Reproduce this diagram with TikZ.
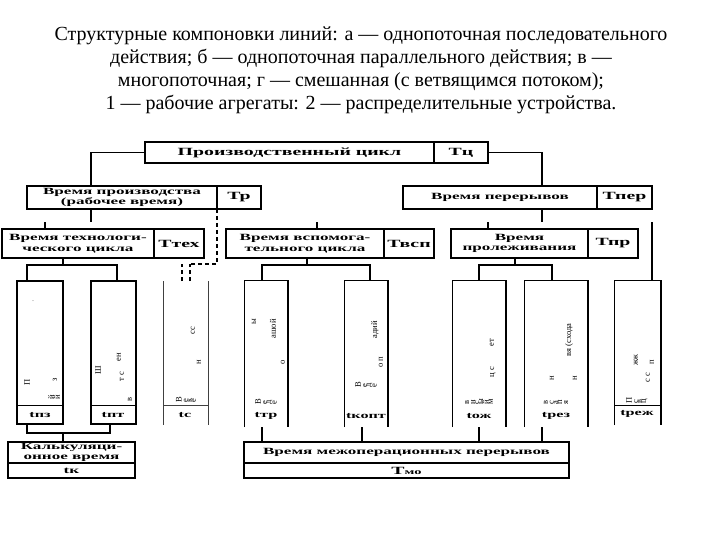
\documentclass[tikz,border=0pt]{standalone}
\usepackage{graphicx}
\usepackage{fontspec}
\setmainfont{Liberation Serif}
\newfontfamily\tfont{Liberation Serif}
\newfontfamily\bw[FakeStretch=1.8]{Liberation Serif}
\usetikzlibrary{calc}
\tikzset{
 ln/.style={line width=1.4pt},
 thn/.style={line width=0.8pt},
 bx/.style={draw, line width=1.3pt, inner sep=0pt, outer sep=0pt, align=center, font=\bw\bfseries\fontsize{9.5}{10.5}\selectfont},
 big/.style={font=\bw\bfseries\fontsize{11}{12}\selectfont},
 tl/.style={inner sep=0pt, outer sep=0pt},
 lab/.style={font=\bw\bfseries\fontsize{9}{10}\selectfont, inner sep=0pt},
 frag/.style={font=\tfont\fontsize{8.5}{8.5}\selectfont, rotate=90, inner sep=0pt},
 hfrag/.style={font=\tfont\fontsize{8.5}{8.5}\selectfont, inner sep=0pt},
 dsh/.style={line width=1.3pt, dash pattern=on 4pt off 3pt},
}
\newcommand\rg[1]{\rotatebox{90}{#1}}
\newcommand\mkbox[7][]{\node[bx,#1,minimum width={#5-#3},minimum height={#6-#4}] (#2) at ({(#3+#5)/2},{(#4+#6)/2}) {#7};}
\newcommand\mktall[5]{\node[tl,minimum width={#4-#2},minimum height={#5-#3}] (#1) at ({(#2+#4)/2},{(#3+#5)/2}) {};}
\begin{document}
\begin{tikzpicture}[x=1pt,y=-1pt]
\useasboundingbox (0,0) rectangle (720,540);
\fill[white] (0,0) rectangle (720,540);
% title
\node[font=\tfont\fontsize{20}{23}\selectfont, align=center] (title) at (361,70) {Структурные компоновки линий: а — однопоточная последовательного\\ действия; б — однопоточная параллельного действия; в —\\ многопоточная; г — смешанная (с ветвящимся потоком);\\ 1 — рабочие агрегаты: 2 — распределительные устройства.};
% boxes
\mkbox[big]{pcL}{145}{142}{434}{163}{Производственный цикл}
\mkbox[big]{pcR}{434}{142}{488}{163}{Тц}
\mkbox{tpL}{27}{186}{217}{209}{Время производства\\(рабочее время)}
\mkbox[big]{tpR}{217}{186}{261}{209}{Тр}
\mkbox{perL}{403}{186}{597}{209}{Время перерывов}
\mkbox[big]{perR}{597}{186}{652}{209}{Тпер}
\mkbox{tehL}{2}{229}{154}{258}{Время технологи-\\ческого цикла}
\mkbox[big]{tehR}{154}{229}{204}{258}{Ттех}
\mkbox{vspL}{226}{229}{384}{258}{Время вспомога-\\тельного цикла}
\mkbox[big]{vspR}{384}{229}{434}{258}{Твсп}
\mkbox{prL}{451}{229}{588}{258}{Время\\пролеживания}
\mkbox[big]{prR}{588}{229}{638}{258}{Тпр}
\mkbox{calcU}{8}{442}{135}{463}{Калькуляци-\\онное время}
\mkbox{calcD}{8}{463}{135}{478}{tк}
\mkbox{moU}{244}{442}{569}{463}{Время межоперационных перерывов}
\mkbox[big]{moD}{244}{463}{569}{478}{Т{\fontsize{8}{9}\selectfont мо}}
% tall boxes
\coordinate (yD) at (0,405);
\mktall{pz}{17}{281}{63}{424}
\mktall{pt}{91}{281}{136}{424}
\mktall{tc}{163}{281}{208}{425}
\mktall{tr}{244}{280}{288}{427}
\mktall{kopt}{344}{280}{388}{427}
\mktall{oj}{452}{280}{506}{427}
\mktall{rez}{524}{280}{588}{427}
\mktall{rej}{614}{280}{661}{425}
\draw[ln] (pz.south west) rectangle (pz.north east);
\draw[ln] (pt.south west) rectangle (pt.north east);
\draw[thn] (pz.west |- yD) -- (pz.east |- yD);
\draw[thn] (pt.west |- yD) -- (pt.east |- yD);
\draw[line width=0.8pt, black!75] (tc.north west) -- (tc.south west) (tc.north east) -- (tc.south east);
\draw[line width=0.5pt, black!75] (tc.west |- yD) -- (tc.east |- yD);
\foreach \b in {tr,kopt,oj,rez,rej}{
  \draw[thn] (\b.south west) |- (\b.north east);
  \draw[ln] (\b.north east) -- (\b.south east);
}
\draw[thn] (rej.west |- yD) -- (rej.east |- yD);
% labels in tall boxes
\node[lab] (pzl) at (40,415) {tпз};
\node[lab] (ptl) at (113,415) {tпт};
\node[lab] (tcl) at (185,415) {tс};
\node[lab] (trl) at (266,416) {tтр};
\node[lab] (koptl) at (366,416) {tкопт};
\node[lab] (ojl) at (479,416) {tож};
\node[lab] (rezl) at (556,416) {tрез};
\node[lab] (rejl) at (637,414) {tреж};
% fragments
\node[inner sep=0pt] (f1) at (33,301) {\fontsize{6}{6}\selectfont .};
\node[frag] (f2) at (27,382) {П};
\node[frag] (f3) at (55,380) {з};
\node[hfrag] (f4) at (54,397) {\rg{й}\rg{й}};
\node[frag] (f5) at (98,370) {Ш};
\node[frag] (f6) at (119,357) {ен};
\node[frag] (f7) at (122,377) {т с};
\node[hfrag] (f8) at (130,399) {\rg{в}};
\node[frag] (f9) at (193,331) {сс};
\node[frag] (f10) at (199,362) {н};
\node[hfrag] (f11) at (186,400) {\rg{В} \rg{е}\rg{к}\rg{е}};
\node[frag] (f12) at (254,322) {ы};
\node[frag] (f13) at (273,329) {ашой};
\node[frag] (f14) at (283,362) {о};
\node[hfrag] (f15) at (266,402) {\rg{В} \rg{е}\rg{д}\rg{е}};
\node[frag] (f16) at (375,330) {адий};
\node[frag] (f17) at (381,362) {о п};
\node[hfrag] (f18) at (366,385) {\rg{В} \rg{е}\rg{д}\rg{е}};
\node[frag] (f19) at (492,343) {ет};
\node[frag] (f20) at (493,372) {ц с};
\node[hfrag] (f21) at (479,402) {\rg{в} \rg{н}\rg{с}\rg{ы}\rg{й}\rg{м}};
\node[frag] (f22) at (569,340) {вя (схода};
\node[frag] (f23) at (552,378) {н};
\node[frag] (f24) at (575,378) {н};
\node[hfrag] (f25) at (556,402) {\rg{в} \rg{с}\rg{а}\rg{п} \rg{я}};
\node[frag] (f26) at (636,360) {жж};
\node[frag] (f27) at (652,362) {п};
\node[frag] (f28) at (648,378) {с с};
\node[hfrag] (f29) at (637,400) {\rg{П} \rg{с}\rg{в}\rg{ц}};
% connectors
\draw[ln] (pcL.west) -| ([xshift=64pt]tpL.north west);
\draw[ln] (pcR.east) -| ([xshift=139pt]perL.north west);
\draw[ln] ([xshift=64pt]tpL.south west) -- ++(0,13);
\draw[ln] ([xshift=139pt]perL.south west) -- ++(0,13);
\draw[ln] ([xshift=43pt]tehL.north west) -- ++(0,-7);
\draw[ln] ([xshift=91pt]vspL.north west) -- ++(0,-7);
\draw[ln] ([xshift=37pt]prL.north west) -- ++(0,-7);
\draw[ln] ([xshift=38pt]rej.north west) -- ++(0,-58);
\draw[ln] ([xshift=61pt]tehL.south west) -- ++(0,7) -| ([xshift=10pt]pz.north west);
\draw[ln] ([xshift=61pt]tehL.south west) ++(0,7) -| ([xshift=26pt]pt.north west);
\draw[ln] ([xshift=81pt]vspL.south west) -- ++(0,7) -| ([xshift=18pt]tr.north west);
\draw[ln] ([xshift=81pt]vspL.south west) ++(0,7) -| ([xshift=26pt]kopt.north west);
\draw[ln] ([xshift=64pt]prL.south west) -- ++(0,7) -| ([xshift=27pt]oj.north west);
\draw[ln] ([xshift=64pt]prL.south west) ++(0,7) -| ([xshift=28pt]rez.north west);
\draw[dsh] (tpR.south west) -- ++(0,55) -- ++(-27,0);
\draw[dsh] ([xshift=19pt]tc.north west) -- ++(0,-17);
\draw[dsh] ([xshift=27pt]tc.north west) -- ++(0,-17);
\draw[ln] ([xshift=10pt]pz.south west) -- ++(0,9) -| ([xshift=19pt]pt.south west);
\draw[ln] ([xshift=55pt]calcU.north west) -- ++(0,-9);
\draw[ln] ([xshift=18pt]moU.north west) -- ++(0,-15);
\draw[ln] ([xshift=118pt]moU.north west) -- ++(0,-15);
\draw[ln] ([xshift=235pt]moU.north west) -- ++(0,-15);
\draw[ln] ([xshift=298pt]moU.north west) -- ++(0,-15);
\end{tikzpicture}
\end{document}
